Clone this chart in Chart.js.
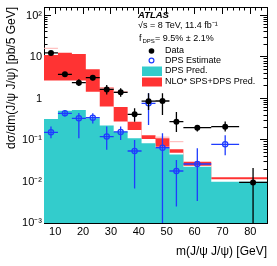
<!DOCTYPE html>
<html>
<head>
<meta charset="utf-8">
<script src="https://cdn.jsdelivr.net/npm/chart.js@4/dist/chart.umd.min.js"></script>
<style>
html,body{margin:0;padding:0;background:#fff;}
#wrap{width:277px;height:266px;position:relative;}
</style>
</head>
<body>
<div id="wrap"><canvas id="c" width="277" height="266"></canvas></div>
<script>
// ---- data ----
const binEdges = [6, 11, 16, 21, 26, 31, 36, 41, 46, 51, 56, 66, 76, 86];

const dataValues = [12.5, 3.83, 2.40, 3.17, 1.65, 1.41, 0.416, 0.86, 0.87, 0.276, 0.198, 0.209, 0.0095];
const dataHigh   = [14.0, 4.3, 2.9, 3.7, 2.1, 1.76, 0.58, 1.33, 1.33, 0.47, 0.23, 0.28, 0.021];
const dataLow    = [11.1, 3.3, 2.0, 2.75, 1.25, 1.1, 0.275, 0.53, 0.40, 0.155, 0.16, 0.16, 0.0007];

const dpsEstimate = [0.153, 0.44, 0.333, 0.344, 0.121, 0.156, 0.0543, 0.766, 0.065, 0.0179, 0.0264, 0.0787, null];
const dpsEstHigh  = [0.21, 0.53, 0.45, 0.44, 0.21, 0.21, 0.10, 1.33, 0.145, 0.033, 0.063, 0.13, null];
const dpsEstLow   = [0.11, 0.37, 0.11, 0.25, 0.058, 0.10, 0.0068, 0.23, 0.0005, 0.0025, 0.0034, 0.043, null];

const dpsPred = [0.209, 0.32, 0.508, 0.528, 0.333, 0.223, 0.158, 0.11, 0.083, 0.063, 0.045, 0.0227, 0.0099];

const nloHigh    = [65, 11.1, 12.7, 11.8, 5.05, 1.84, 0.62, 0.276, 0.13, 0.11, 0.06, 0.030, 0.0126];
const nloLow     = [12.7, 2.7, 2.7, 2.7, 1.46, 0.64, 0.28, 0.174, 0.105, 0.069, 0.049, 0.024, 0.0114];
const nloCentral = [16.2, null, null, null, 1.76, 1.46, null, null, 0.117, 0.091, null, null, null];

const xMajorTicks = [10, 20, 30, 40, 50, 60, 70, 80];
const yDecadeTicks = [0.001, 0.01, 0.1, 1, 10, 100];
const yDecadeLabels = ['10\u207B\u00B3', '10\u207B\u00B2', '10\u207B\u00B9', '1', '10', '10\u00B2'];

const X_MIN = 6, X_MAX = 86, Y_MIN = 0.001, Y_MAX = 160;

// ---- derived structures for the library ----
const nBins = binEdges.length - 1;
const centers = [];
for (let i = 0; i < nBins; i++) centers.push((binEdges[i] + binEdges[i + 1]) / 2);

function stepPoints(vals) {
  return binEdges.map((e, i) => ({x: e, y: vals[Math.min(i, nBins - 1)]}));
}
function vBars(vals, lo, hi) {
  const out = [];
  for (let i = 0; i < nBins; i++) {
    if (vals[i] == null) continue;
    out.push({x: centers[i], y: lo[i]}, {x: centers[i], y: hi[i]}, {x: centers[i], y: null});
  }
  return out;
}
function hBars(vals) {
  const out = [];
  for (let i = 0; i < nBins; i++) {
    if (vals[i] == null) continue;
    out.push({x: binEdges[i], y: vals[i]}, {x: binEdges[i + 1], y: vals[i]}, {x: centers[i], y: null});
  }
  return out;
}
function pts(vals) {
  const out = [];
  for (let i = 0; i < nBins; i++) if (vals[i] != null) out.push({x: centers[i], y: vals[i]});
  return out;
}

const xMinorTicks = [];
for (let v = X_MIN; v <= X_MAX; v += 2) if (v % 10 !== 0) xMinorTicks.push(v);
const yMinorTicks = [];
yDecadeTicks.forEach(d => { for (let k = 2; k <= 9; k++) { const v = k * d; if (v <= Y_MAX) yMinorTicks.push(v); } });

const RED = '#ff3333', CYAN = '#33cccc', BLUE = '#1f3cff';
const FONT = '"Liberation Sans", Arial, Helvetica, sans-serif';

const lineBase = {type: 'line', pointRadius: 0, pointHoverRadius: 0, tension: 0, spanGaps: false, fill: false};

const datasets = [
  Object.assign({}, lineBase, {label: 'Data', data: pts(dataValues), showLine: false,
    pointRadius: 3, pointBackgroundColor: '#000', pointBorderWidth: 0, order: 1}),
  Object.assign({}, lineBase, {label: 'Data v', data: vBars(dataValues, dataLow, dataHigh), borderColor: '#000', borderWidth: 1.3, order: 2}),
  Object.assign({}, lineBase, {label: 'Data h', data: hBars(dataValues), borderColor: '#000', borderWidth: 1.3, order: 2}),
  Object.assign({}, lineBase, {label: 'DPS Estimate', data: pts(dpsEstimate), showLine: false,
    pointRadius: 2.6, pointBackgroundColor: 'rgba(0,0,0,0)', pointBorderColor: BLUE, pointBorderWidth: 1.3, order: 3}),
  Object.assign({}, lineBase, {label: 'DPS v', data: vBars(dpsEstimate, dpsEstLow, dpsEstHigh), borderColor: BLUE, borderWidth: 1.3, order: 4}),
  Object.assign({}, lineBase, {label: 'DPS h', data: hBars(dpsEstimate), borderColor: BLUE, borderWidth: 1.3, order: 4}),
  Object.assign({}, lineBase, {label: 'NLO central', data: hBars(nloCentral), borderColor: '#ffb3b3', borderWidth: 1, order: 5}),
  // DPS prediction histogram (filled to the axis) drawn above the NLO band's white lower part
  Object.assign({}, lineBase, {label: 'DPS Pred.', data: stepPoints(dpsPred), stepped: 'after',
    borderWidth: 0, borderColor: CYAN, backgroundColor: CYAN, fill: 'start', order: 6}),
  // NLO band: upper edge filled red, lower edge filled white on top of it
  Object.assign({}, lineBase, {label: 'NLO low', data: stepPoints(nloLow), stepped: 'after',
    borderWidth: 0, borderColor: '#fff', backgroundColor: '#fff', fill: 'start', order: 7}),
  Object.assign({}, lineBase, {label: 'NLO* SPS+DPS Pred.', data: stepPoints(nloHigh), stepped: 'after',
    borderWidth: 0, borderColor: RED, backgroundColor: RED, fill: 'start', order: 8})
];

const MAJ = 7, MIN = 3.5;
function noPad(s) { s.paddingTop = 0; s.paddingBottom = 0; s.paddingLeft = 0; s.paddingRight = 0; }
function tickAxis(extra) {
  return Object.assign({
    min: X_MIN, max: X_MAX, z: 1,
    ticks: {display: false, autoSkip: false},
    grid: {drawOnChartArea: false, drawTicks: true, color: '#000', tickWidth: 1},
    border: {display: false}
  }, extra);
}

const scales = {
  x: {
    type: 'linear', position: 'bottom', min: X_MIN, max: X_MAX, z: 1,
    afterBuildTicks: a => { a.ticks = xMajorTicks.map(v => ({value: v})); },
    afterFit: s => { s.height = 43; noPad(s); },
    ticks: {autoSkip: false, maxRotation: 0, padding: 9, color: '#000', font: {family: FONT, size: 11},
      callback: v => String(v)},
    grid: {drawOnChartArea: false, drawTicks: true, tickLength: -MAJ, color: '#000'},
    border: {display: true, color: '#000', width: 1},
    title: {display: true, text: 'm(J/\u03C8 J/\u03C8) [GeV]', align: 'end', color: '#000',
      font: {family: FONT, size: 12}, padding: {top: 0, bottom: 6.8}}
  },
  xTop: tickAxis({type: 'linear', axis: 'x', position: 'top',
    afterBuildTicks: a => { a.ticks = xMajorTicks.map(v => ({value: v})); },
    afterFit: s => { s.height = 0; noPad(s); },
    grid: {drawOnChartArea: false, drawTicks: true, tickLength: -MAJ, color: '#000'},
    border: {display: true, color: '#000', width: 1}}),
  xMinB: tickAxis({type: 'linear', axis: 'x', position: {y: Y_MIN},
    afterBuildTicks: a => { a.ticks = xMinorTicks.map(v => ({value: v})); },
    afterFit: s => { s.height = 0; noPad(s); },
    grid: {drawOnChartArea: false, drawTicks: true, tickLength: -MIN, color: '#000'}}),
  xMinT: tickAxis({type: 'linear', axis: 'x', position: {y: Y_MAX},
    afterBuildTicks: a => { a.ticks = xMinorTicks.map(v => ({value: v})); },
    afterFit: s => { s.height = 0; noPad(s); },
    grid: {drawOnChartArea: false, drawTicks: true, tickLength: MIN, color: '#000'}}),
  y: {
    type: 'logarithmic', position: 'left', min: Y_MIN, max: Y_MAX, z: 1,
    afterBuildTicks: a => { a.ticks = yDecadeTicks.map(v => ({value: v})); },
    afterFit: s => { s.width = 44; noPad(s); },
    ticks: {autoSkip: false, padding: 9, color: '#000', font: {family: FONT, size: 11},
      callback: v => { const i = yDecadeTicks.findIndex(d => Math.abs(Math.log10(d) - Math.log10(v)) < 1e-6); return i >= 0 ? yDecadeLabels[i] : ''; }},
    grid: {drawOnChartArea: false, drawTicks: true, tickLength: -MAJ, color: '#000'},
    border: {display: true, color: '#000', width: 1},
    title: {display: true, text: 'd\u03C3/dm(J/\u03C8 J/\u03C8) [pb/5 GeV]', align: 'end', color: '#000',
      font: {family: FONT, size: 12}, padding: {top: 4.8, bottom: 0}}
  },
  yRight: tickAxis({type: 'logarithmic', axis: 'y', position: 'right', min: Y_MIN, max: Y_MAX,
    afterBuildTicks: a => { a.ticks = yDecadeTicks.map(v => ({value: v})); },
    afterFit: s => { s.width = 0; noPad(s); },
    grid: {drawOnChartArea: false, drawTicks: true, tickLength: -MAJ, color: '#000'},
    border: {display: true, color: '#000', width: 1}}),
  yMinL: tickAxis({type: 'logarithmic', axis: 'y', position: {x: X_MIN}, min: Y_MIN, max: Y_MAX,
    afterBuildTicks: a => { a.ticks = yMinorTicks.map(v => ({value: v})); },
    afterFit: s => { s.width = 0; noPad(s); },
    grid: {drawOnChartArea: false, drawTicks: true, tickLength: -MIN, color: '#000'}}),
  yMinR: tickAxis({type: 'logarithmic', axis: 'y', position: {x: X_MAX}, min: Y_MIN, max: Y_MAX,
    afterBuildTicks: a => { a.ticks = yMinorTicks.map(v => ({value: v})); },
    afterFit: s => { s.width = 0; noPad(s); },
    grid: {drawOnChartArea: false, drawTicks: true, tickLength: MIN, color: '#000'}})
};

const legendPlugin = {
  id: 'rootLegend',
  afterDraw(chart) {
    const ctx = chart.ctx;
    ctx.save();
    ctx.fillStyle = '#000';
    ctx.textBaseline = 'middle';
    ctx.textAlign = 'left';
    ctx.font = 'italic bold 9.5px ' + FONT;
    ctx.fillText('ATLAS', 138, 15);
    ctx.font = '9px ' + FONT;
    ctx.fillText('\u221As = 8 TeV, 11.4 fb\u207B\u00B9', 138, 25.5);
    ctx.fillText('f', 139, 39);
    ctx.font = '6px ' + FONT;
    ctx.fillText('DPS', 142.5, 41.5);
    ctx.font = '9px ' + FONT;
    ctx.fillText('= 9.5% \u00B1 2.1%', 155, 39);
    const tx = 165;
    ctx.fillText('Data', tx, 51);
    ctx.fillText('DPS Estimate', tx, 60.5);
    ctx.fillText('DPS Pred.', tx, 71);
    ctx.fillText('NLO* SPS+DPS Pred.', tx, 82);
    // markers
    ctx.beginPath(); ctx.arc(151.5, 51, 2.8, 0, 2 * Math.PI); ctx.fill();
    ctx.beginPath(); ctx.arc(151.5, 60.5, 2.4, 0, 2 * Math.PI);
    ctx.strokeStyle = BLUE; ctx.lineWidth = 1.2; ctx.stroke();
    ctx.fillStyle = CYAN; ctx.fillRect(142, 66.5, 20, 9.5);
    ctx.fillStyle = RED; ctx.fillRect(142, 77.5, 20, 9);
    ctx.restore();
  }
};

new Chart(document.getElementById('c'), {
  data: {datasets},
  options: {
    responsive: false,
    animation: false,
    devicePixelRatio: 1,
    layout: {padding: {left: 0, right: 10, top: 7, bottom: 0}},
    plugins: {legend: {display: false}, tooltip: {enabled: false}},
    scales
  },
  plugins: [legendPlugin]
});
</script>
</body>
</html>
